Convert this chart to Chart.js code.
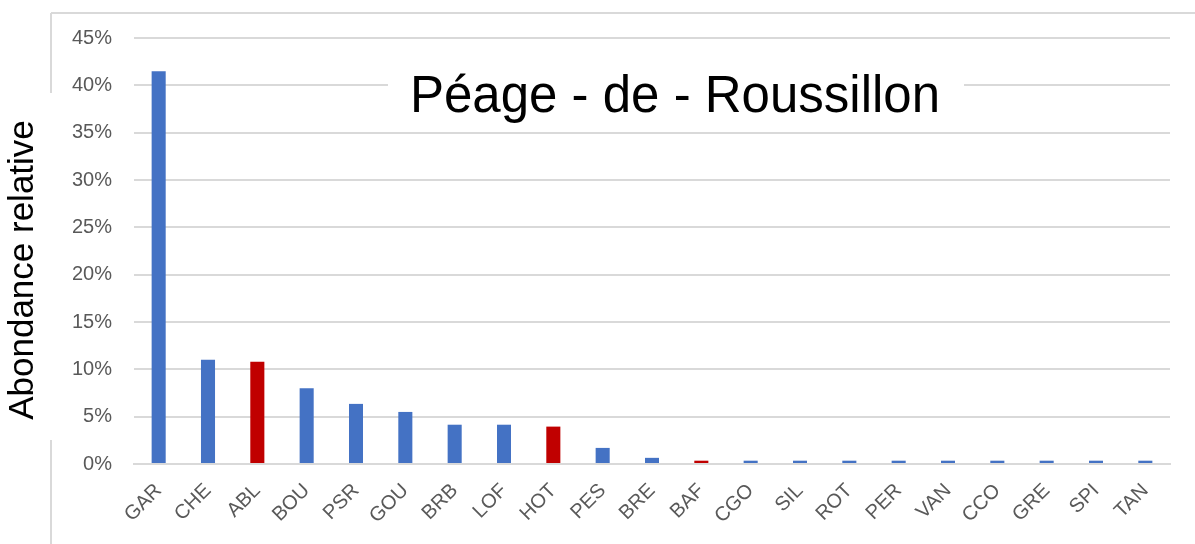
<!DOCTYPE html>
<html>
<head>
<meta charset="utf-8">
<style>
html,body{margin:0;padding:0;background:#fff;}
#wrap{width:1195px;height:544px;position:relative;}
</style>
<script src="https://cdn.jsdelivr.net/npm/chart.js@4.4.1/dist/chart.umd.min.js"></script>
</head>
<body>
<div id="wrap"><canvas id="c" width="1195" height="544"></canvas></div>
<script>
const categories = ['GAR','CHE','ABL','BOU','PSR','GOU','BRB','LOF','HOT','PES','BRE','BAF','CGO','SIL','ROT','PER','VAN','CCO','GRE','SPI','TAN'];
const values = [41.5, 11.0, 10.8, 8.0, 6.35, 5.5, 4.15, 4.15, 3.95, 1.7, 0.65, 0.35, 0.35, 0.35, 0.35, 0.35, 0.35, 0.35, 0.35, 0.35, 0.35];
const highlighted = ['ABL','HOT','BAF'];
const yTicks = [0,5,10,15,20,25,30,35,40,45];
const chartTitle = 'Péage - de - Roussillon';
const yTitle = 'Abondance relative';

const BLUE = '#4472C4', RED = '#C00000';
const FONT = '"Liberation Sans", Arial, sans-serif';

const decor = {
  id: 'decor',
  afterDraw(chart) {
    const ctx = chart.ctx;
    ctx.save();
    ctx.strokeStyle = '#d9d9d9';
    ctx.lineWidth = 2;
    ctx.beginPath();
    ctx.moveTo(51, 13); ctx.lineTo(1195, 13);
    ctx.moveTo(51, 13); ctx.lineTo(51, 93);
    ctx.moveTo(51, 440); ctx.lineTo(51, 544);
    ctx.stroke();
    // title box
    ctx.fillStyle = '#ffffff';
    ctx.fillRect(388, 50, 576, 78);
    ctx.fillStyle = '#000000';
    ctx.font = '51px ' + FONT;
    ctx.textAlign = 'center';
    ctx.textBaseline = 'alphabetic';
    ctx.fillText(chartTitle, 675, 112);
    // y title
    ctx.translate(33, 270);
    ctx.rotate(-Math.PI / 2);
    ctx.font = '35px ' + FONT;
    ctx.fillText(yTitle, 0, 0);
    ctx.restore();
  }
};

new Chart(document.getElementById('c'), {
  type: 'bar',
  data: {
    labels: categories,
    datasets: [{
      data: values,
      backgroundColor: categories.map(c => highlighted.includes(c) ? RED : BLUE),
      barPercentage: 0.285,
      categoryPercentage: 1.0
    }]
  },
  options: {
    responsive: false,
    animation: false,
    layout: { padding: { top: 38, right: 25, left: 0, bottom: 0 } },
    plugins: { legend: { display: false }, tooltip: { enabled: false }, title: { display: false } },
    scales: {
      y: {
        min: 0, max: 45,
        afterBuildTicks(s) { s.ticks = yTicks.map(v => ({ value: v })); },
        afterFit(s) { s.width = 134; },
        ticks: {
          callback: v => v + '%',
          color: '#595959',
          font: { family: FONT, size: 20 },
          padding: 22
        },
        grid: { color: '#d9d9d9', lineWidth: 2, drawTicks: false },
        border: { display: false }
      },
      x: {
        afterFit(s) { s.height = 80; },
        grid: { display: false },
        border: { display: true, color: '#d9d9d9', width: 2 },
        ticks: {
          minRotation: 45, maxRotation: 45,
          color: '#595959',
          font: { family: FONT, size: 20 },
          padding: 7,
          autoSkip: false
        }
      }
    }
  },
  plugins: [decor]
});
</script>
</body>
</html>
